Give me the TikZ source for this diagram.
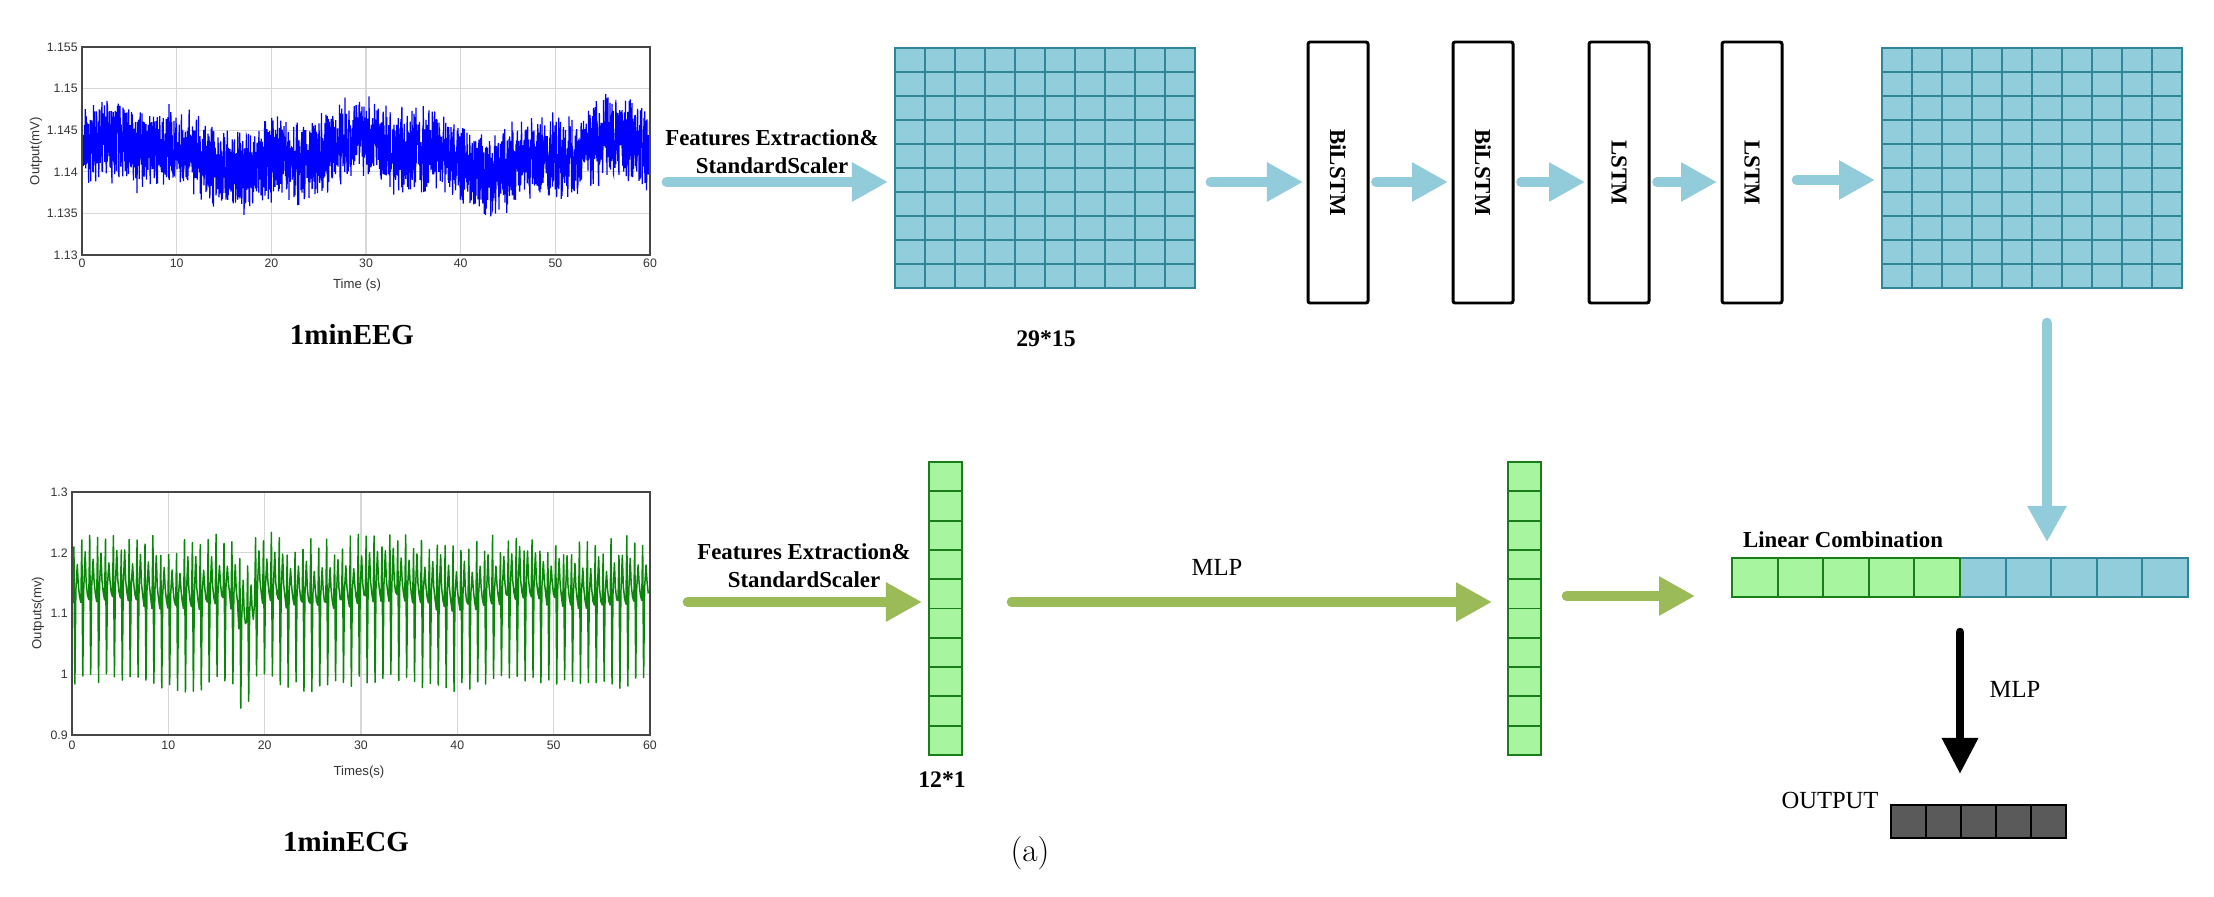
\documentclass[tikz,border=0pt]{standalone}
\usepackage{fontspec}
\newfontfamily\tnr{Liberation Serif}
\newfontfamily\arl{Liberation Sans}
\usetikzlibrary{arrows.meta}
\newdimen\pxu
\pxu=0.02cm
\definecolor{cellblue}{RGB}{146,205,220}
\definecolor{cellblueline}{RGB}{49,133,155}
\definecolor{arrowblue}{RGB}{146,203,218}
\definecolor{cellgreen}{RGB}{168,245,160}
\definecolor{cellgreenline}{RGB}{25,125,25}
\definecolor{arrowgreen}{RGB}{155,187,89}
\definecolor{outgray}{RGB}{90,90,90}
\definecolor{eegblue}{RGB}{0,0,255}
\definecolor{ecggreen}{RGB}{10,135,10}
\definecolor{plotgrid}{RGB}{215,215,215}
\definecolor{axisgray}{RGB}{70,70,70}
\tikzset{
 lblb/.style={font=\tnr\bfseries\fontsize{13}{16}\selectfont, inner sep=0pt, align=center},
 numb/.style={font=\tnr\bfseries\fontsize{13.5}{16}\selectfont, inner sep=0pt},
 regl/.style={font=\tnr\fontsize{14}{16}\selectfont, inner sep=0pt},
 capt/.style={font=\tnr\bfseries\fontsize{16.5}{19}\selectfont, inner sep=0pt},
 ticklbl/.style={font=\arl\fontsize{7}{8}\selectfont, inner sep=0pt, text=black!80},
 axlbl/.style={font=\arl\fontsize{7.5}{9}\selectfont, inner sep=0pt, text=black!80},
 plotarea/.style={inner sep=0pt, outer sep=0pt, anchor=north west},
 axframe/.style={draw=axisgray, line width=1.1pt},
 pgridln/.style={draw=plotgrid, line width=0.7pt},
 bluegrid/.style={draw=cellblueline, fill=cellblue, line width=1.1pt, inner sep=0pt, outer sep=0pt, minimum width=300\pxu, minimum height=240\pxu, anchor=north west},
 blueln/.style={draw=cellblueline, line width=1.1pt},
 greencol/.style={draw=cellgreenline, fill=cellgreen, line width=1.1pt, inner sep=0pt, outer sep=0pt, minimum width=33\pxu, minimum height=293\pxu, anchor=north west},
 greenln/.style={draw=cellgreenline, line width=1.1pt},
 lstmbox/.style={draw=black, line width=1.7pt, rounded corners=1.2pt, fill=white, minimum width=60\pxu, minimum height=261\pxu, inner sep=0pt, outer sep=0pt, anchor=north west},
 lstmtxt/.style={font=\tnr\bfseries\fontsize{13}{16}\selectfont, inner sep=0pt, rotate=-90},
 blockarr/.style={draw=#1, line width=5.5pt, line cap=round, -{Triangle[length=20.5pt, width=21pt]}},
 blackarr/.style={draw=black, line width=4.8pt, line cap=round, -{Triangle[length=20.5pt, width=19.5pt]}},
}
\begin{document}
\begin{tikzpicture}[x=0.02cm, y=-0.02cm]
\useasboundingbox (0,0) rectangle (2214,896);
\fill[white] (0,0) rectangle (2214,896);

% ---------------- EEG plot ----------------
\node[plotarea, minimum width=568\pxu, minimum height=208\pxu] (eegax) at (82,47) {};
\foreach \i in {1,...,5} \draw[pgridln] ({82+\i*94.67},47) -- ({82+\i*94.67},255);
\foreach \j in {1,...,4} \draw[pgridln] (82,{47+\j*41.6}) -- (650,{47+\j*41.6});
\begin{scope}
\clip (82,47) rectangle (650,255);
\pgfmathsetseed{7}
\draw[eegblue, line width=0.7pt] plot[domain=0:60, samples=3000, variable=\t]
  ({82+9.467*\t}, {155-13*sin(13.8*\t+30)-6*sin(40*\t+10)+27*rand+20*rand});
\end{scope}
\draw[axframe] (eegax.north west) rectangle (eegax.south east);
\foreach \lab [count=\k from 0] in {1.155,1.15,1.145,1.14,1.135,1.13}
  \node[ticklbl, anchor=east] (eyt\k) at (78,{47+\k*41.6}) {\lab};
\foreach \lab [count=\k from 0] in {0,10,20,30,40,50,60}
  \node[ticklbl, anchor=north] (ext\k) at ({82+\k*94.67},259) {\lab};
\node[axlbl] (exl) at (357,285) {Time (s)};
\node[axlbl, rotate=90] (eyl) at (36,151) {Output(mV)};
\node[capt] (eegcap) at (352,335) {1minEEG};

% ---------------- ECG plot ----------------
\node[plotarea, minimum width=578\pxu, minimum height=243\pxu] (ecgax) at (72,492) {};
\foreach \i in {1,...,5} \draw[pgridln] ({72+\i*96.33},492) -- ({72+\i*96.33},735);
\foreach \j in {1,...,3} \draw[pgridln] (72,{492+\j*60.75}) -- (650,{492+\j*60.75});
\begin{scope}
\clip (72,492) rectangle (650,735);
\pgfmathsetseed{11}
\draw[ecggreen, line width=0.85pt, line join=round] (72,603)
  \foreach \i [evaluate=\i as \t using {0.82*\i+0.1},
               evaluate=\i as \b using {1.118+0.008*sin(25*(0.82*\i+0.1))-0.055*max(0,1-((0.82*\i-17.5)/1.3)*((0.82*\i-17.5)/1.3))}] in {0,...,72}
  { -- ({72+9.633*\t},{735-607.5*(\b+0.008*rand-0.9)})
    -- ({72+9.633*(\t+0.1)},{735-607.5*(1.215+0.018*rand+0.5*(\b-1.118)-0.9)})
    -- ({72+9.633*(\t+0.2)},{735-607.5*(0.987+0.009*rand+1.0*(\b-1.118)-0.9)})
    -- ({72+9.633*(\t+0.3)},{735-607.5*(\b+0.02-0.9)})
    -- ({72+9.633*(\t+0.45)},{735-607.5*(\b+0.07+0.015*rand-0.9)})
    -- ({72+9.633*(\t+0.55)},{735-607.5*(\b+0.03-0.9)})
    -- ({72+9.633*(\t+0.68)},{735-607.5*(\b+0.01-0.9)}) };
\end{scope}
\draw[axframe] (ecgax.north west) rectangle (ecgax.south east);
\foreach \lab [count=\k from 0] in {1.3,1.2,1.1,1,0.9}
  \node[ticklbl, anchor=east] (cyt\k) at (68,{492+\k*60.75}) {\lab};
\foreach \lab [count=\k from 0] in {0,10,20,30,40,50,60}
  \node[ticklbl, anchor=north] (cxt\k) at ({72+\k*96.33},741) {\lab};
\node[axlbl] (cxl) at (359,772) {Times(s)};
\node[axlbl, rotate=90] (cyl) at (38,613) {Outputs(mv)};
\node[capt] (ecgcap) at (346,842) {1minECG};

% ---------------- top row ----------------
\node[bluegrid] (g1) at (895,48) {};
\foreach \i in {1,...,9} {
  \draw[blueln] ({895+\i*30},48) -- ({895+\i*30},288);
  \draw[blueln] (895,{48+\i*24}) -- (1195,{48+\i*24});
}
\node[numb] (g1lab) at (1046,339) {29*15};

\node[lstmbox] (b1) at (1308,42) {};
\node[lstmbox] (b2) at (1453,42) {};
\node[lstmbox] (b3) at (1589,42) {};
\node[lstmbox] (b4) at (1722,42) {};
\node[lstmtxt] (b1t) at (b1.center) {BiLSTM};
\node[lstmtxt] (b2t) at (b2.center) {BiLSTM};
\node[lstmtxt] (b3t) at (b3.center) {LSTM};
\node[lstmtxt] (b4t) at (b4.center) {LSTM};

\node[bluegrid] (g2) at (1882,48) {};
\foreach \i in {1,...,9} {
  \draw[blueln] ({1882+\i*30},48) -- ({1882+\i*30},288);
  \draw[blueln] (1882,{48+\i*24}) -- (2182,{48+\i*24});
}

\coordinate (r1) at (0,182);
\coordinate (r2) at (0,180);
\draw[blockarr=arrowblue, shorten <=16.5\pxu, shorten >=7\pxu] (eegax.east |- r1) -- (g1.west |- r1);
\node[lblb] (fe1) at (772,152) {Features Extraction\&\\StandardScaler};
\draw[blockarr=arrowblue, shorten <=15.5\pxu, shorten >=5\pxu] (g1.east |- r1) -- (b1.west |- r1);
\draw[blockarr=arrowblue, shorten <=8\pxu, shorten >=5\pxu] (b1.east |- r1) -- (b2.west |- r1);
\draw[blockarr=arrowblue, shorten <=8\pxu, shorten >=4\pxu] (b2.east |- r1) -- (b3.west |- r1);
\draw[blockarr=arrowblue, shorten <=8\pxu, shorten >=5\pxu] (b3.east |- r1) -- (b4.west |- r1);
\draw[blockarr=arrowblue, shorten <=14.5\pxu, shorten >=7\pxu] (b4.east |- r2) -- (g2.west |- r2);

% ---------------- bottom row ----------------
\node[greencol] (c1) at (929,462) {};
\node[greencol] (c2) at (1508,462) {};
\foreach \i in {1,...,9} {
  \draw[greenln] (929,{462+\i*29.3}) -- (962,{462+\i*29.3});
  \draw[greenln] (1508,{462+\i*29.3}) -- (1541,{462+\i*29.3});
}
\node[numb] (c1lab) at (942,780) {12*1};

\node[draw=cellgreenline, fill=cellgreen, line width=1.1pt, inner sep=0pt, outer sep=0pt, minimum width=228\pxu, minimum height=39\pxu, anchor=north west] (barG) at (1732,558) {};
\node[draw=cellblueline, fill=cellblue, line width=1.1pt, inner sep=0pt, outer sep=0pt, minimum width=228\pxu, minimum height=39\pxu, anchor=north west] (barB) at (1960,558) {};
\foreach \i in {1,...,4} {
  \draw[greenln] ({1732+\i*45.6},558) -- ({1732+\i*45.6},597);
  \draw[blueln] ({1960+\i*45.6},558) -- ({1960+\i*45.6},597);
}
\draw[greenln] (barG.north east) -- (barG.south east);
\node[lblb] (lc) at (1843,540) {Linear Combination};

\node[draw=black, fill=outgray, line width=1.4pt, inner sep=0pt, outer sep=0pt, minimum width=175\pxu, minimum height=33\pxu, anchor=north west] (out) at (1891,805) {};
\foreach \i in {1,...,4} \draw[black, line width=1.4pt] ({1891+\i*35},805) -- ({1891+\i*35},838);
\node[regl] (outlab) at (1830,800) {OUTPUT};

\coordinate (r3) at (0,602);
\coordinate (r4) at (0,596);
\coordinate (vx) at (2047,0);
\draw[blockarr=arrowgreen, shorten <=37.5\pxu, shorten >=7\pxu] (ecgax.east |- r3) -- (c1.west |- r3);
\node[lblb] (fe2) at (804,566) {Features Extraction\&\\StandardScaler};
\draw[blockarr=arrowgreen, shorten <=49.5\pxu, shorten >=16\pxu] (c1.east |- r3) -- (c2.west |- r3);
\node[regl] (mlp1) at (1217,567) {MLP};
\draw[blockarr=arrowgreen, shorten <=25.5\pxu, shorten >=37\pxu] (c2.east |- r4) -- (barG.west |- r4);
\draw[blockarr=arrowblue, shorten <=34.5\pxu, shorten >=16\pxu] (g2.south -| vx) -- (barB.north -| vx);
\draw[blackarr, shorten <=35\pxu, shorten >=31\pxu] (barB.south west) -- (barB.south west |- out.north);
\node[regl] (mlp2) at (2015,689) {MLP};

\node[font=\fontsize{19}{22}\selectfont, inner sep=0pt] (cap) at (1030,853) {(a)};
\end{tikzpicture}
\end{document}
